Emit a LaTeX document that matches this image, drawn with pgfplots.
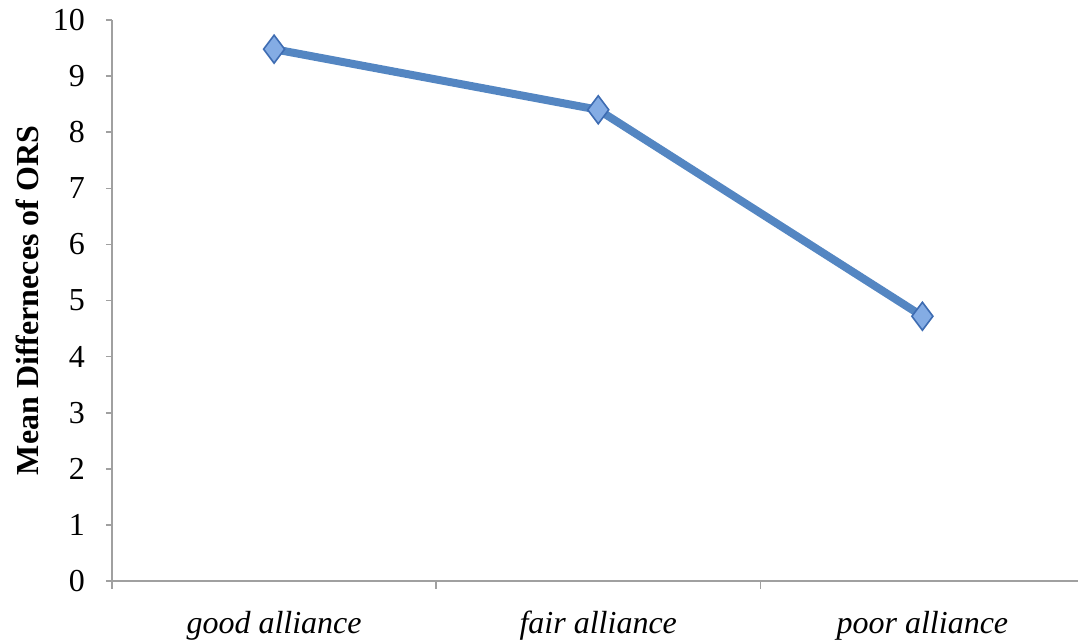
\documentclass[border=0pt]{standalone}
\usepackage{pgfplots}
\pgfplotsset{compat=1.18}
\usepackage{fontspec}
\setmainfont{Liberation Serif}
\definecolor{linecol}{RGB}{84,134,194}
\definecolor{markfill}{RGB}{132,172,228}
\definecolor{markdraw}{RGB}{62,108,178}
\definecolor{axcol}{RGB}{160,160,160}
\begin{document}
\begin{tikzpicture}
\begin{axis}[
  scale only axis, width=483pt, height=280.5pt,
  xmin=-0.5, xmax=2.48, ymin=0, ymax=10,
  axis lines*=left,
  axis line style={axcol, line width=0.8pt},
  tick align=outside,
  xtick={0,1,2},
  xticklabels={good alliance, fair alliance, poor alliance},
  minor xtick={-0.5,0.5,1.5},
  major x tick style={draw=none},
  minor x tick style={axcol, line width=0.8pt},
  minor tick length=4pt,
  ytick={0,1,...,10},
  y tick style={axcol, line width=0.8pt},
  major tick length=3pt,
  /pgf/number format/assume math mode=true,
  tick label style={font=\fontsize{16}{18}\selectfont},
  xticklabel style={font=\fontsize{16}{18}\selectfont\itshape, yshift=-8.5pt},
  yticklabel style={xshift=-7pt},
  ylabel={Mean Differneces of ORS},
  ylabel style={font=\fontsize{16}{18}\selectfont\bfseries, at={(axis description cs:0,0.5)}, anchor=center, yshift=42.5pt},
]
\addplot[linecol, line width=4pt, mark=diamond*, mark size=7pt,
  mark options={fill=markfill, draw=markdraw, line width=0.8pt}]
  coordinates {(0,9.48) (1,8.40) (2,4.72)};
\end{axis}
\pgfresetboundingbox
\useasboundingbox (-56pt,-29pt) rectangle (483pt,290.5pt);
\end{tikzpicture}
\end{document}
